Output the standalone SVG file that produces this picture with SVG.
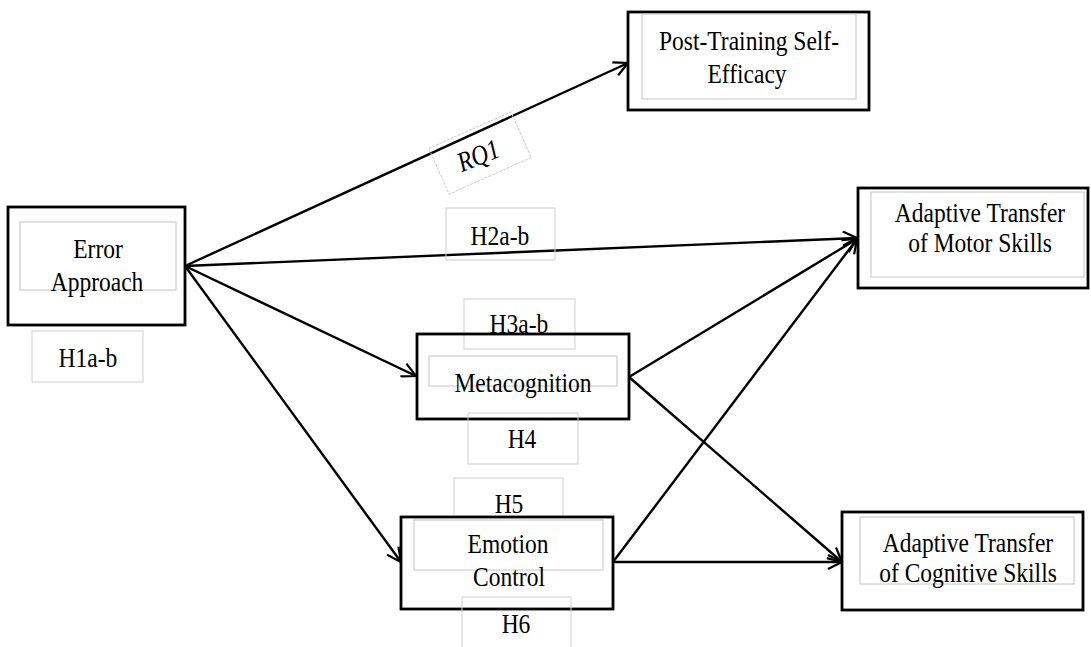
<svg xmlns="http://www.w3.org/2000/svg" width="1091" height="647" viewBox="0 0 1091 647">
<defs>
<style>
.t{font-family:'Liberation Serif','Times New Roman',serif;font-size:28px;fill:#000;text-anchor:middle}
.it{font-style:italic}
.node{fill:#fff;stroke:#000;stroke-width:2.8}
.inner{fill:none;stroke:#c4c4c4;stroke-width:1}
.lab{fill:none;stroke:#cfcfcf;stroke-width:1}
.c{fill:none;stroke:#000;stroke-width:2.4;marker-end:url(#arr)}
</style>
<marker id="arr" viewBox="0 0 16 16" refX="15" refY="8" markerWidth="16" markerHeight="16" markerUnits="userSpaceOnUse" orient="auto">
<path d="M1,1 L15,8 L1,15" fill="none" stroke="#000" stroke-width="2.2"/>
</marker>
</defs>
<rect width="1091" height="647" fill="#fff"/>

<g id="connectors">
<line class="c" x1="185" y1="266" x2="628" y2="63"/>
<line class="c" x1="185" y1="266" x2="857" y2="238"/>
<line class="c" x1="185" y1="266" x2="416" y2="376"/>
<line class="c" x1="185" y1="266" x2="401" y2="562"/>
<line class="c" x1="629" y1="377" x2="857" y2="239"/>
<line class="c" x1="629" y1="377" x2="842" y2="562"/>
<line class="c" x1="613" y1="562" x2="857" y2="239"/>
<line class="c" x1="613" y1="562" x2="842" y2="562"/>
</g>

<g id="error-approach" font-family="Liberation Serif, serif">
<rect class="node" x="8" y="207" width="177" height="118" style="fill:none"/>
<rect class="inner" x="20" y="222" width="156" height="68"/>
<text class="t" transform="translate(98,258) scale(0.84,1)">Error</text>
<text class="t" transform="translate(97,291) scale(0.84,1)">Approach</text>
</g>

<g id="label-h1">
<rect class="lab" x="32" y="331" width="111" height="51"/>
<text class="t" transform="translate(88,367) scale(0.84,1)">H1a-b</text>
</g>

<g id="post-training">
<rect class="node" x="628" y="12" width="241" height="98"/>
<rect class="inner" x="642" y="14" width="214" height="85"/>
<text class="t" transform="translate(749,50) scale(0.84,1)">Post-Training Self-</text>
<text class="t" transform="translate(747,83) scale(0.84,1)">Efficacy</text>
</g>

<g id="label-rq1" transform="translate(480,153) rotate(-24)">
<rect class="lab" x="-45" y="-25" width="90" height="50" stroke-dasharray="3,1"/>
<text class="t it" transform="translate(-3,11) rotate(2) scale(0.84,1)">RQ1</text>
</g>

<g id="label-h2">
<rect class="lab" x="446" y="208" width="109" height="52"/>
<text class="t" transform="translate(500,245) scale(0.84,1)">H2a-b</text>
</g>

<g id="motor">
<rect class="node" x="858" y="188" width="230" height="100"/>
<rect class="inner" x="871" y="192" width="213" height="85"/>
<text class="t" transform="translate(980,222) scale(0.84,1)">Adaptive Transfer</text>
<text class="t" transform="translate(980,252) scale(0.84,1)">of Motor Skills</text>
</g>

<g id="label-h3">
<rect class="lab" x="464" y="299" width="111" height="50"/>
<text class="t" transform="translate(519,333) scale(0.84,1)">H3a-b</text>
</g>

<g id="metacognition">
<rect class="node" x="417" y="334" width="212" height="85" style="fill:none"/>
<rect class="inner" x="429" y="356" width="188" height="30"/>
<text class="t" transform="translate(523,392) scale(0.84,1)">Metacognition</text>
</g>

<g id="label-h4">
<rect class="lab" x="468" y="413" width="110" height="51"/>
<text class="t" transform="translate(522,448) scale(0.84,1)">H4</text>
</g>

<g id="label-h5">
<rect class="lab" x="454" y="478" width="109" height="45"/>
<text class="t" transform="translate(509,513) scale(0.84,1)">H5</text>
</g>

<g id="emotion-control">
<rect class="node" x="401" y="517" width="212" height="92"/>
<rect class="inner" x="414" y="520" width="189" height="50"/>
<text class="t" transform="translate(508,553) scale(0.84,1)">Emotion</text>
<text class="t" transform="translate(509,586) scale(0.84,1)">Control</text>
</g>

<g id="label-h6">
<rect class="lab" x="462" y="597" width="109" height="52"/>
<text class="t" transform="translate(516,633) scale(0.84,1)">H6</text>
</g>

<g id="cognitive">
<rect class="node" x="842" y="512" width="241" height="98"/>
<rect class="inner" x="860" y="517" width="214" height="67"/>
<text class="t" transform="translate(968,552) scale(0.84,1)">Adaptive Transfer</text>
<text class="t" transform="translate(968,582) scale(0.84,1)">of Cognitive Skills</text>
</g>
</svg>
